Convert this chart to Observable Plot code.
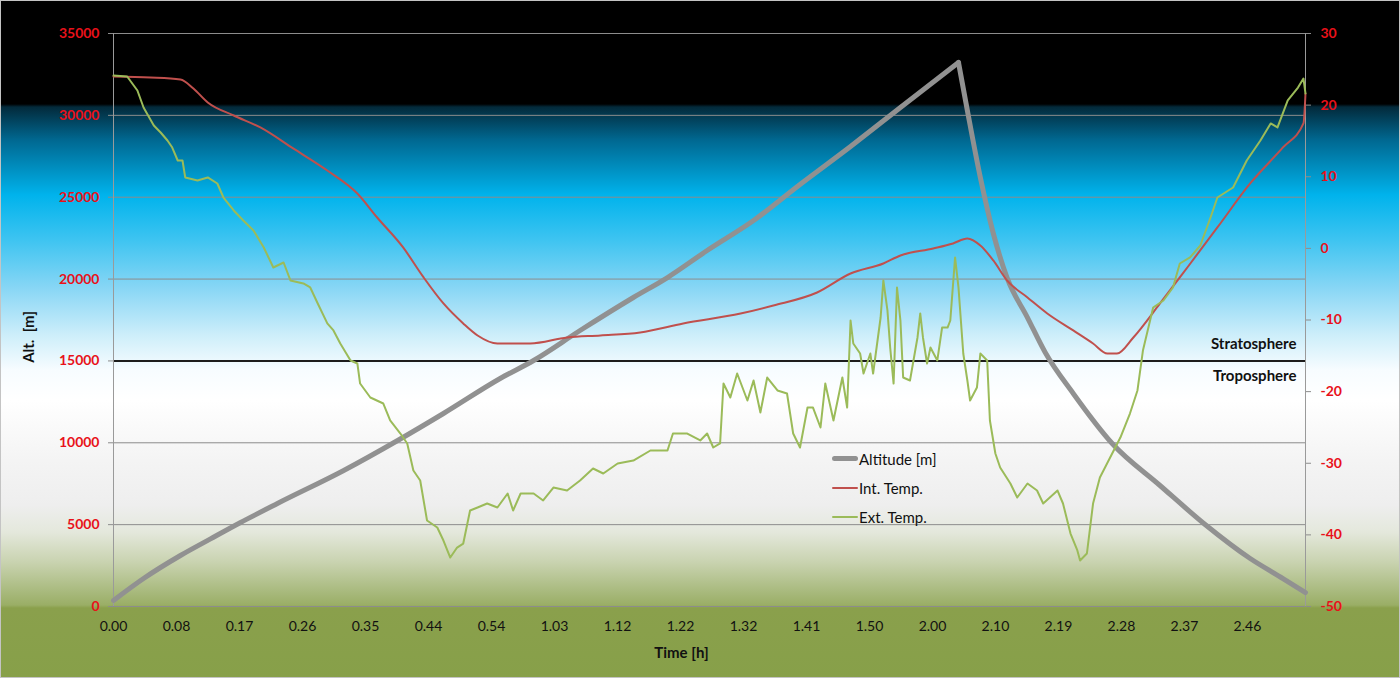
<!DOCTYPE html>
<html><head><meta charset="utf-8">
<script src="https://cdn.jsdelivr.net/npm/d3@7"></script>
<script src="https://cdn.jsdelivr.net/npm/@observablehq/plot@0.6"></script>
<style>
body{margin:0;background:#fff;}
#wrap{position:relative;width:1400px;height:678px;overflow:hidden;
background:linear-gradient(to bottom,
 #000000 0px,#000000 104px,#032a3b 107px,#006891 140px,#00b3ec 195px,#3ec4f1 240px,#8bd7f5 290px,#cdeefa 335px,#f7fcff 370px,#ffffff 400px,#f4f4f4 460px,#eeeeee 505px,#e4e8dc 532px,#c9d3b0 562px,#aabb80 590px,#9aae66 605px,#8aa04c 608px,#87a049 678px);
font-family:Lato,"Open Sans",sans-serif;}
#wrap::after{content:"";position:absolute;inset:0;border:1px solid #c4c4c4;pointer-events:none;}
#wrap svg{position:absolute;left:0;top:0;}
.legend{position:absolute;left:832px;top:444px;font-size:15px;color:#111;}
.legend div{height:29px;display:flex;align-items:center;}
.legend span.sw{display:inline-block;width:26px;margin-right:1px;}
.ylab{position:absolute;left:28px;top:337px;transform:translate(-50%,-50%) rotate(-90deg);font-weight:bold;font-size:15px;color:#111;white-space:pre;}
</style>
</head><body><div id="wrap"></div>
<script>
// ---- data ----
const tickLabels = ["0.00","0.08","0.17","0.26","0.35","0.44","0.54","1.03","1.12","1.22","1.32","1.41","1.50","2.00","2.10","2.19","2.28","2.37","2.46"];
const tickStepMinutes = 166 / 18;
const xMaxMinutes = 174.5;
const altTicks = [0,5000,10000,15000,20000,25000,30000,35000];
const tempTicks = [-50,-40,-30,-20,-10,0,10,20,30];
const tropopause = [15000];
const yTitle = "Alt.  [m]";
const xTitle = "Time [h]";
const layerNames = ["Stratosphere","Troposphere"];

const altTime = [0,4.4,9.8,14.2,18.6,24.0,33.7,41.6,48.3,56.6,61.5,68.3,76.1,81.1,86.9,93.7,100.5,107.9,115.2,123.7,125.0,126.9,128.8,130.8,133.8,136.4,140.5,146.2,153.2,159.8,166.4,171.2,174.5];
const altValue = [370,1710,3115,4130,5131,6291,8307,10139,11788,13926,15026,16858,18874,20095,21744,23577,25776,28097,30479,33228,30296,26203,22783,20095,17652,15514,13010,9956,7391,5009,2932,1710,855];

const intTime = [0,5.4,9.8,11.7,13.8,17.6,21.5,26.3,31.3,35.7,38.6,42.4,45.4,48.3,51.2,53.3,56.2,61.0,66.4,71.3,77.1,83.4,91.8,96.6,103.0,107.9,112.7,115.2,120.0,122.9,125.0,126.9,128.8,130.8,133.8,136.7,140.5,143.4,145.5,146.9,149.3,153.2,157.2,161.6,166.4,171.2,174.2,174.5];
const intValue = [24.0,23.86,23.58,22.32,20.37,18.55,16.88,13.95,10.87,7.66,4.31,0.13,-4.06,-7.69,-10.48,-12.16,-13.28,-13.28,-12.44,-12.16,-11.74,-10.48,-9.09,-7.97,-6.16,-3.51,-2.11,-0.99,-0.01,0.69,1.38,0.40,-1.69,-4.48,-6.85,-9.09,-11.46,-13.28,-14.68,-14.68,-12.44,-7.69,-2.67,2.92,9.06,14.09,17.44,21.63];

const extTime = [0.0,2.0,3.5,4.4,5.9,6.9,7.9,8.6,9.4,10.1,10.5,12.3,13.8,15.2,16.1,17.6,19.0,20.5,22.0,23.4,24.9,25.9,27.8,28.8,29.9,31.3,32.2,33.2,34.7,35.7,36.1,37.6,39.5,40.5,42.0,43.0,43.9,44.9,45.9,47.4,48.3,49.3,50.3,51.2,52.2,53.3,54.7,56.2,57.7,58.5,59.6,61.5,62.9,64.4,66.4,68.3,70.2,71.7,73.8,76.1,78.6,81.1,81.9,84.0,85.9,86.9,87.8,88.8,89.3,90.3,91.3,92.8,93.7,94.7,95.7,97.2,98.6,99.5,100.5,101.6,102.4,103.5,104.2,105.4,106.7,107.4,107.9,108.3,109.3,109.8,110.8,111.2,112.3,112.7,113.3,113.7,114.2,114.7,115.2,115.6,116.6,117.7,118.1,118.5,119.1,119.6,120.6,121.3,122.1,122.5,123.2,123.7,124.4,125.0,125.4,126.4,126.9,127.9,128.3,129.1,129.8,131.3,132.3,133.8,135.2,136.1,138.2,139.0,140.1,141.1,141.5,142.5,143.4,144.4,145.9,147.4,148.8,149.9,150.7,152.2,153.7,155.1,156.1,157.6,159.1,160.6,161.6,163.9,165.9,167.9,169.4,170.4,171.9,173.4,174.2,174.5];
const extValue = [24.14,24.0,22.04,19.67,17.16,16.18,15.06,14.08,12.27,12.27,9.9,9.48,9.9,9.06,7.1,5.29,3.89,2.49,0.12,-2.67,-1.97,-4.48,-4.9,-5.46,-7.69,-10.48,-11.46,-13.28,-15.65,-16.07,-18.87,-20.82,-21.66,-24.03,-25.85,-27.24,-31.01,-32.41,-37.99,-38.97,-40.79,-43.16,-41.77,-41.21,-36.6,-36.18,-35.62,-36.18,-34.22,-36.6,-34.22,-34.22,-35.2,-33.39,-33.81,-32.41,-30.73,-31.43,-30.03,-29.62,-28.22,-28.22,-25.85,-25.85,-26.82,-25.85,-27.8,-27.24,-18.87,-20.82,-17.47,-21.24,-18.45,-22.92,-18.03,-19.84,-20.26,-25.85,-27.8,-22.22,-22.22,-25.01,-18.87,-24.03,-18.03,-22.22,-10.07,-13.28,-14.68,-17.47,-14.68,-17.47,-9.65,-4.48,-8.67,-13.84,-18.87,-5.46,-10.07,-18.03,-18.45,-12.44,-9.09,-12.44,-16.07,-13.84,-15.65,-11.05,-11.05,-10.07,-1.27,-5.46,-14.68,-18.45,-21.24,-19.43,-14.68,-15.65,-24.03,-28.64,-30.59,-32.83,-34.78,-32.83,-33.81,-35.62,-33.81,-35.62,-39.81,-42.18,-43.58,-42.6,-35.62,-31.99,-29.2,-26.41,-23.06,-19.84,-14.26,-8.25,-7.28,-5.46,-2.11,-1.27,0.4,4.31,7.1,8.5,12.27,15.06,17.44,16.88,20.65,22.46,23.72,21.62];

const seriesNames = ["Altitude [m]","Int. Temp.","Ext. Temp."];
const seriesColors = ["#919191","#c0504d","#9bbb59"];

// ---- build ----
const altMax = 35000, tMin = -50, tMax = 30;
const tempToAlt = t => (t - tMin) / (tMax - tMin) * altMax;
const altToTemp = a => Math.round(a / altMax * (tMax - tMin) + tMin);
// split altitude into ascent / descent at the burst point so the peak stays sharp
const peakIdx = altValue.indexOf(d3.max(altValue));
const altData = [];
altTime.forEach((t, i) => {
  if (i <= peakIdx) altData.push({t, v: altValue[i], phase: "ascent"});
  if (i >= peakIdx) altData.push({t, v: altValue[i], phase: "descent"});
});
const intData = intTime.map((t, i) => ({t, v: tempToAlt(intValue[i])}));
const extData = extTime.map((t, i) => ({t, v: tempToAlt(extValue[i])}));
const tickPositions = tickLabels.map((_, i) => i * tickStepMinutes);
const labelMap = new Map(tickPositions.map((p, i) => [p, tickLabels[i]]));
const red = "#e8111a";

const chart = Plot.plot({
  width: 1400, height: 678,
  marginLeft: 113, marginRight: 95, marginTop: 33, marginBottom: 72,
  style: {background: "transparent", fontFamily: "Lato, 'Open Sans', sans-serif", overflow: "visible"},
  x: {domain: [0, xMaxMinutes]},
  y: {domain: [0, altMax]},
  marks: [
    Plot.gridY(altTicks, {stroke: "#8c8c8c", strokeOpacity: 1}),
    Plot.ruleY(tropopause, {stroke: "#1c1c1c", strokeWidth: 2}),
    Plot.ruleX([0, xMaxMinutes], {stroke: "#9a9a9a"}),
    Plot.axisY(altTicks, {anchor: "left", tickSize: 5, tickPadding: 9, stroke: "#8c8c8c", fill: red, fontWeight: "bold", fontSize: 14, label: null, tickFormat: d => String(d)}),
    Plot.axisY(tempTicks.map(tempToAlt), {anchor: "right", tickSize: 5, tickPadding: 10, stroke: "#8c8c8c", fill: red, fontWeight: "bold", fontSize: 14, label: null, tickFormat: d => String(altToTemp(d))}),
    Plot.axisX(tickPositions, {anchor: "bottom", tickSize: 0, tickPadding: 15, fill: "#111", fontSize: 14, label: null, tickFormat: d => labelMap.get(d)}),
    Plot.line(altData, {x: "t", y: "v", z: "phase", stroke: seriesColors[0], strokeWidth: 5, strokeLinejoin: "round", strokeLinecap: "round", curve: "monotone-x"}),
    Plot.line(intData, {x: "t", y: "v", stroke: seriesColors[1], strokeWidth: 2, strokeLinejoin: "round", curve: "monotone-x"}),
    Plot.line(extData, {x: "t", y: "v", stroke: seriesColors[2], strokeWidth: 2, strokeLinejoin: "round"}),
    Plot.text([layerNames[0]], {x: xMaxMinutes, y: tropopause[0], text: d => d, textAnchor: "end", dx: -9, dy: -17, fontWeight: "bold", fontSize: 15, fill: "#111"}),
    Plot.text([layerNames[1]], {x: xMaxMinutes, y: tropopause[0], text: d => d, textAnchor: "end", dx: -9, dy: 15, fontWeight: "bold", fontSize: 15, fill: "#111"}),
    Plot.text([xTitle], {frameAnchor: "bottom", text: d => d, dx: -28, dy: 51, fontWeight: "bold", fontSize: 15, fill: "#111"})
  ]
});
const wrap = document.getElementById("wrap");
wrap.appendChild(chart);

const ylab = document.createElement("div");
ylab.className = "ylab";
ylab.textContent = yTitle;
wrap.appendChild(ylab);

const legend = document.createElement("div");
legend.className = "legend";
seriesNames.forEach((name, i) => {
  const row = document.createElement("div");
  const sw = document.createElement("span");
  sw.className = "sw";
  sw.style.borderTop = `${i === 0 ? 5 : 2}px solid ${seriesColors[i]}`;
  sw.style.borderRadius = "3px";
  row.appendChild(sw);
  row.appendChild(document.createTextNode(name));
  legend.appendChild(row);
});
wrap.appendChild(legend);
</script>
</body></html>
